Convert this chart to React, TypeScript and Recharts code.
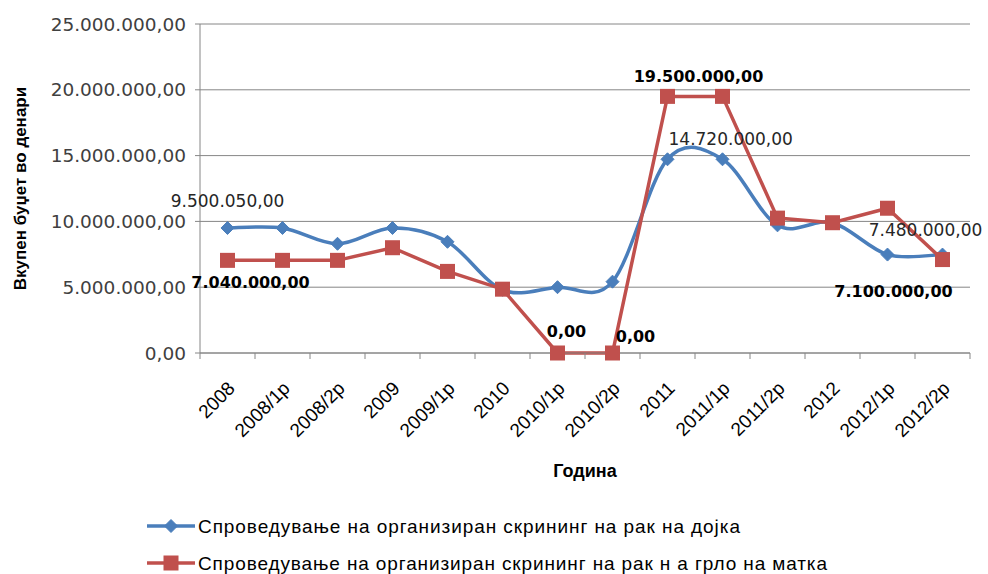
import { CartesianGrid, Label, LabelList, Line, LineChart, XAxis, YAxis } from 'recharts'

const years = ['2008', '2008/1р', '2008/2р', '2009', '2009/1р', '2010', '2010/1р', '2010/2р', '2011', '2011/1р', '2011/2р', '2012', '2012/1р', '2012/2р']
const breastScreening = [9500050, 9500000, 8300000, 9500000, 8450000, 4800000, 5000000, 5420000, 14720000, 14720000, 9700000, 9900000, 7480000, 7480000]
const cervixScreening = [7040000, 7040000, 7040000, 8000000, 6200000, 4850000, 0, 0, 19500000, 19500000, 10250000, 9900000, 11000000, 7100000]
const yTicks = [0, 5000000, 10000000, 15000000, 20000000, 25000000]

const breastName = 'Спроведување на организиран скрининг на рак на дојка'
const cervixName = 'Спроведување на организиран скрининг на рак н а грло на матка'

const BLUE = '#4a7ebb'
const RED = '#c0504d'
const GRID = '#868686'
const W = 988
const H = 574
const PLOT_LEFT = 200
const PLOT_RIGHT = 970
const PLOT_BOTTOM = 353
const band = (PLOT_RIGHT - PLOT_LEFT) / years.length

const data = years.map((year, i) => ({ year, breast: breastScreening[i], cervix: cervixScreening[i] }))

const fmt = (v: number) => {
  const [int, dec] = v.toFixed(2).split('.')
  return int.replace(/\B(?=(\d{3})+(?!\d))/g, '.') + ',' + dec
}

// which points carry a value label, and where it sits relative to the point
const blueLabelAt: Record<number, { dx: number; dy: number; anchor: 'start' | 'middle' | 'end' }> = {
  0: { dx: 0, dy: -21, anchor: 'middle' },
  8: { dx: 1, dy: -14, anchor: 'start' },
  13: { dx: -17, dy: -19, anchor: 'middle' },
}
const redLabelAt: Record<number, { dx: number; dy: number; anchor: 'start' | 'middle' | 'end' }> = {
  0: { dx: 23, dy: 28, anchor: 'middle' },
  6: { dx: 9, dy: -16, anchor: 'middle' },
  7: { dx: 23, dy: -11, anchor: 'middle' },
  8: { dx: 31, dy: -14, anchor: 'middle' },
  13: { dx: -49, dy: 37, anchor: 'middle' },
}

// excel-like smoothing (catmull-rom through every point)
const smooth = (context: any) => {
  let pts: number[][] = []
  return {
    areaStart() {},
    areaEnd() {},
    lineStart() {
      pts = []
    },
    point(x: number, y: number) {
      pts.push([+x, +y])
    },
    lineEnd() {
      if (!pts.length) return
      context.moveTo(pts[0][0], pts[0][1])
      for (let i = 0; i < pts.length - 1; i++) {
        const p0 = pts[i - 1] || pts[i]
        const p1 = pts[i]
        const p2 = pts[i + 1]
        const p3 = pts[i + 2] || p2
        context.bezierCurveTo(
          p1[0] + (p2[0] - p0[0]) / 6,
          p1[1] + (p2[1] - p0[1]) / 6,
          p2[0] - (p3[0] - p1[0]) / 6,
          p2[1] - (p3[1] - p1[1]) / 6,
          p2[0],
          p2[1],
        )
      }
    },
  }
}

const Diamond = ({ cx, cy }: any) => {
  if (cx == null || cy == null) return null
  const r = 6.5
  return <polygon points={`${cx},${cy - r} ${cx + r},${cy} ${cx},${cy + r} ${cx - r},${cy}`} fill={BLUE} stroke={BLUE} strokeWidth={1} />
}

const Square = ({ cx, cy }: any) => {
  if (cx == null || cy == null) return null
  const s = 15
  return <rect x={cx - s / 2} y={cy - s / 2} width={s} height={s} fill={RED} />
}

const blueLabel = (props: any) => {
  const spot = blueLabelAt[props.index]
  if (!spot) return null
  return (
    <text x={props.x + spot.dx} y={props.y + spot.dy} textAnchor={spot.anchor} fontFamily="DejaVu Sans" fontSize={17} fill="#262626">
      {fmt(props.value)}
    </text>
  )
}

const redLabel = (props: any) => {
  const spot = redLabelAt[props.index]
  if (!spot) return null
  return (
    <text x={props.x + spot.dx} y={props.y + spot.dy} textAnchor={spot.anchor} fontFamily="DejaVu Sans" fontWeight="bold" fontSize={16} fill="#000">
      {fmt(props.value)}
    </text>
  )
}

const YearTick = ({ x, payload, index }: any) => {
  const ty = PLOT_BOTTOM + 32
  const tx = x + 4
  return (
    <g>
      <line x1={x - band / 2} x2={x - band / 2} y1={PLOT_BOTTOM} y2={PLOT_BOTTOM + 6} stroke={GRID} />
      {index === years.length - 1 ? <line x1={x + band / 2} x2={x + band / 2} y1={PLOT_BOTTOM} y2={PLOT_BOTTOM + 6} stroke={GRID} /> : null}
      <text x={tx} y={ty} transform={`rotate(-45, ${tx}, ${ty})`} textAnchor="end" dominantBaseline="central" fontFamily="Liberation Sans" fontSize={19} fill="#000">
        {payload.value}
      </text>
    </g>
  )
}

const LegendRow = ({ y, name, marker, length }: { y: number; name: string; marker: 'diamond' | 'square'; length: number }) => (
  <g>
    <line x1={147} x2={195} y1={y} y2={y} stroke={marker === 'diamond' ? BLUE : RED} strokeWidth={3.5} />
    {marker === 'diamond' ? <Diamond cx={171} cy={y} /> : <Square cx={171} cy={y} />}
    <text x={198} y={y} dominantBaseline="central" fontFamily="Liberation Sans" fontSize={19} fill="#000" textLength={length} lengthAdjust="spacing">
      {name}
    </text>
  </g>
)

export default function App() {
  return (
    <div style={{ position: 'absolute', left: 0, top: 0, width: W, height: H, background: '#fff' }}>
      <LineChart width={W} height={H} data={data} margin={{ top: 24, right: W - PLOT_RIGHT, bottom: 0, left: 0 }}>
        <CartesianGrid stroke={GRID} vertical={false} />
        <XAxis
          dataKey="year"
          interval={0}
          height={H - PLOT_BOTTOM}
          padding={{ left: band / 2, right: band / 2 }}
          axisLine={{ stroke: GRID }}
          tickLine={false}
          tick={<YearTick />}
        >
          <Label
            content={({ viewBox }: any) => (
              <text x={PLOT_LEFT + (PLOT_RIGHT - PLOT_LEFT) / 2} y={viewBox.y + 124} textAnchor="middle" fontFamily="Liberation Sans" fontWeight="bold" fontSize={18} fill="#000">
                Година
              </text>
            )}
          />
        </XAxis>
        <YAxis
          width={PLOT_LEFT}
          domain={[0, 25000000]}
          ticks={yTicks}
          tickFormatter={fmt}
          axisLine={{ stroke: GRID }}
          tickLine={{ stroke: GRID }}
          tickSize={5}
          tickMargin={9}
          tick={{ fontFamily: 'DejaVu Sans', fontSize: 18.5, fill: '#404040' }}
        >
          <Label
            content={({ viewBox }: any) => {
              const cx = 20
              const cy = viewBox.y + viewBox.height / 2
              return (
                <text x={cx} y={cy} transform={`rotate(-90, ${cx}, ${cy})`} textAnchor="middle" dominantBaseline="central" fontFamily="Liberation Sans" fontWeight="bold" fontSize={17} fill="#000">
                  Вкупен буџет во денари
                </text>
              )
            }}
          />
        </YAxis>
        <Line dataKey="breast" name={breastName} type={smooth as any} stroke={BLUE} strokeWidth={3.5} dot={<Diamond />} activeDot={false} isAnimationActive={false}>
          <LabelList dataKey="breast" content={blueLabel} />
        </Line>
        <Line dataKey="cervix" name={cervixName} type="linear" stroke={RED} strokeWidth={3.5} dot={<Square />} activeDot={false} isAnimationActive={false}>
          <LabelList dataKey="cervix" content={redLabel} />
        </Line>
      </LineChart>
      <svg width={W} height={80} style={{ position: 'absolute', left: 0, top: 494 }}>
        <LegendRow y={32} name={breastName} marker="diamond" length={542} />
        <LegendRow y={69} name={cervixName} marker="square" length={629} />
      </svg>
    </div>
  )
}
